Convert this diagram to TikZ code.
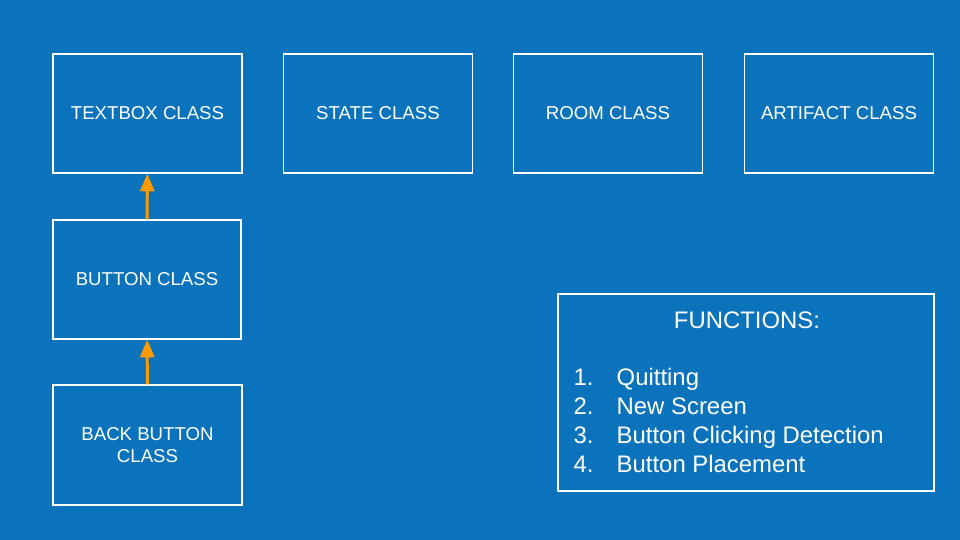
\documentclass[tikz,border=0pt]{standalone}
\usepackage{fontspec}
\setmainfont{Liberation Sans}
\usetikzlibrary{arrows.meta}
\definecolor{slideblue}{RGB}{11,115,188}
\definecolor{linkorange}{RGB}{255,153,0}
\begin{document}
\begin{tikzpicture}[
  classbox/.style={draw=white, line width=0.4pt, text=white,
    minimum width=1.89cm, minimum height=1.19cm, align=center,
    font=\fontsize{5.3}{6.24}\selectfont},
  listtext/.style={text=white, inner sep=0pt, font=\fontsize{6.8}{8.2}\selectfont},
  inherit/.style={draw=linkorange, line width=0.85pt,
    -{Triangle[length=5pt,width=4pt]}}
]
\fill[slideblue] (0,0) rectangle (9.6,5.4);
\useasboundingbox (0,0) rectangle (9.6,5.4);

\draw (1.475,4.265) node[classbox] (textbox) {TEXTBOX CLASS};
\draw (3.78,4.265) node[classbox] (state) {STATE CLASS};
\draw (6.08,4.265) node[classbox] (room) {ROOM CLASS};
\draw (8.39,4.265) node[classbox] (artifact) {ARTIFACT CLASS};
\draw (1.47,2.605) node[classbox, minimum width=1.88cm] (button) {BUTTON CLASS};
\draw (1.475,0.95) node[classbox, minimum height=1.2cm] (back) {BACK BUTTON\\CLASS};

\draw[inherit] (button) -- (textbox);
\draw[inherit] (back) -- (button);

% functions list
\draw (7.46,1.475) node[draw=white, line width=0.4pt,
  minimum width=3.76cm, minimum height=1.97cm] (funcs) {};
\draw (7.47,2.115) node[listtext, anchor=base] (title) {FUNCTIONS:};
\foreach \i/\t/\y in {1/Quitting/1.545, 2/New Screen/1.255,
    3/Button Clicking Detection/0.965, 4/Button Placement/0.675} {
  \draw (5.73,\y) node[listtext, anchor=base west] (num\i) {\i.};
  \draw (6.16,\y) node[listtext, anchor=base west] (item\i) {\t};
}
\end{tikzpicture}
\end{document}
